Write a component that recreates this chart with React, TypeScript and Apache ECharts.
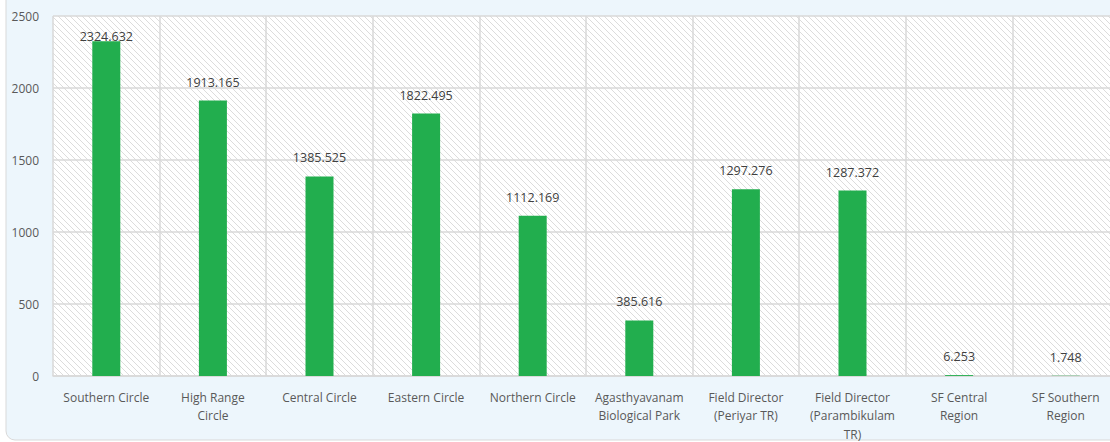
import React, { useEffect, useRef } from "react";
import * as echarts from "echarts";

const categories = [
  "Southern Circle",
  "High Range\nCircle",
  "Central Circle",
  "Eastern Circle",
  "Northern Circle",
  "Agasthyavanam\nBiological Park",
  "Field Director\n(Periyar TR)",
  "Field Director\n(Parambikulam\nTR)",
  "SF Central\nRegion",
  "SF Southern\nRegion",
];
const values = [2324.632, 1913.165, 1385.525, 1822.495, 1112.169, 385.616, 1297.276, 1287.372, 6.253, 1.748];
const yTicks = [0, 500, 1000, 1500, 2000, 2500];

function makeHatch(): any {
  const s = 6;
  const c = document.createElement("canvas");
  c.width = s;
  c.height = s;
  const ctx = c.getContext("2d")!;
  ctx.fillStyle = "#ffffff";
  ctx.fillRect(0, 0, s, s);
  ctx.strokeStyle = "#dcdcdc";
  ctx.lineWidth = 1;
  ctx.beginPath();
  ctx.moveTo(-1, -1);
  ctx.lineTo(s + 1, s + 1);
  ctx.moveTo(-1, s - 1);
  ctx.lineTo(1, s + 1);
  ctx.moveTo(s - 1, -1);
  ctx.lineTo(s + 1, 1);
  ctx.stroke();
  return { image: c, repeat: "repeat" };
}

export default function App() {
  const ref = useRef<HTMLDivElement>(null);
  useEffect(() => {
    if (!ref.current) return;
    const chart = echarts.init(ref.current, undefined, { renderer: "svg" });
    const fontFamily = "'Open Sans', 'Noto Sans', sans-serif";
    chart.setOption({
      animation: false,
      backgroundColor: "#ffffff",
      textStyle: { fontFamily },
      graphic: [
        {
          type: "rect",
          z: -10,
          silent: true,
          shape: { x: 6, y: -12, width: 1130, height: 452, r: 9 },
          style: { fill: "#edf6fc", stroke: "#d9d9d9", lineWidth: 1 },
        },
      ],
      grid: {
        left: 53,
        right: -9,
        top: 16,
        bottom: 66,
        show: true,
        backgroundColor: makeHatch(),
        borderWidth: 0,
        containLabel: false,
        outerBoundsMode: "none",
      },
      xAxis: {
        type: "category",
        data: categories,
        boundaryGap: true,
        axisLine: { show: true, lineStyle: { color: "#d9d9d9", width: 1.5 } },
        axisTick: { show: false },
        splitLine: { show: true, lineStyle: { color: "#d9d9d9", width: 1.5 } },
        axisLabel: {
          interval: 0,
          color: "#595959",
          fontSize: 12,
          lineHeight: 18.5,
          margin: 12,
          fontFamily,
        },
      },
      yAxis: {
        type: "value",
        min: 0,
        max: 2500,
        interval: 500,
        axisLine: { show: false },
        axisTick: { show: false },
        splitLine: { show: true, lineStyle: { color: "#d9d9d9", width: 1.5 } },
        axisLabel: {
          color: "#595959",
          fontSize: 12,
          margin: 14,
          fontFamily,
          customValues: yTicks,
          formatter: (v: number) => String(v),
        },
      },
      series: [
        {
          type: "bar",
          barWidth: 28,
          itemStyle: { color: "#22ae4e" },
          data: values.map((v, i) =>
            i === 0 ? { value: v, label: { distance: -2 } } : { value: v }
          ),
          label: {
            show: true,
            position: "top",
            distance: 12,
            color: "#404040",
            fontSize: 12.5,
            fontFamily,
            formatter: (p: any) => String(p.value),
          },
        },
      ],
    });
    return () => chart.dispose();
  }, []);
  return (
    <div
      ref={ref}
      style={{ position: "fixed", left: 0, top: 0, width: 1110, height: 442 }}
    />
  );
}
